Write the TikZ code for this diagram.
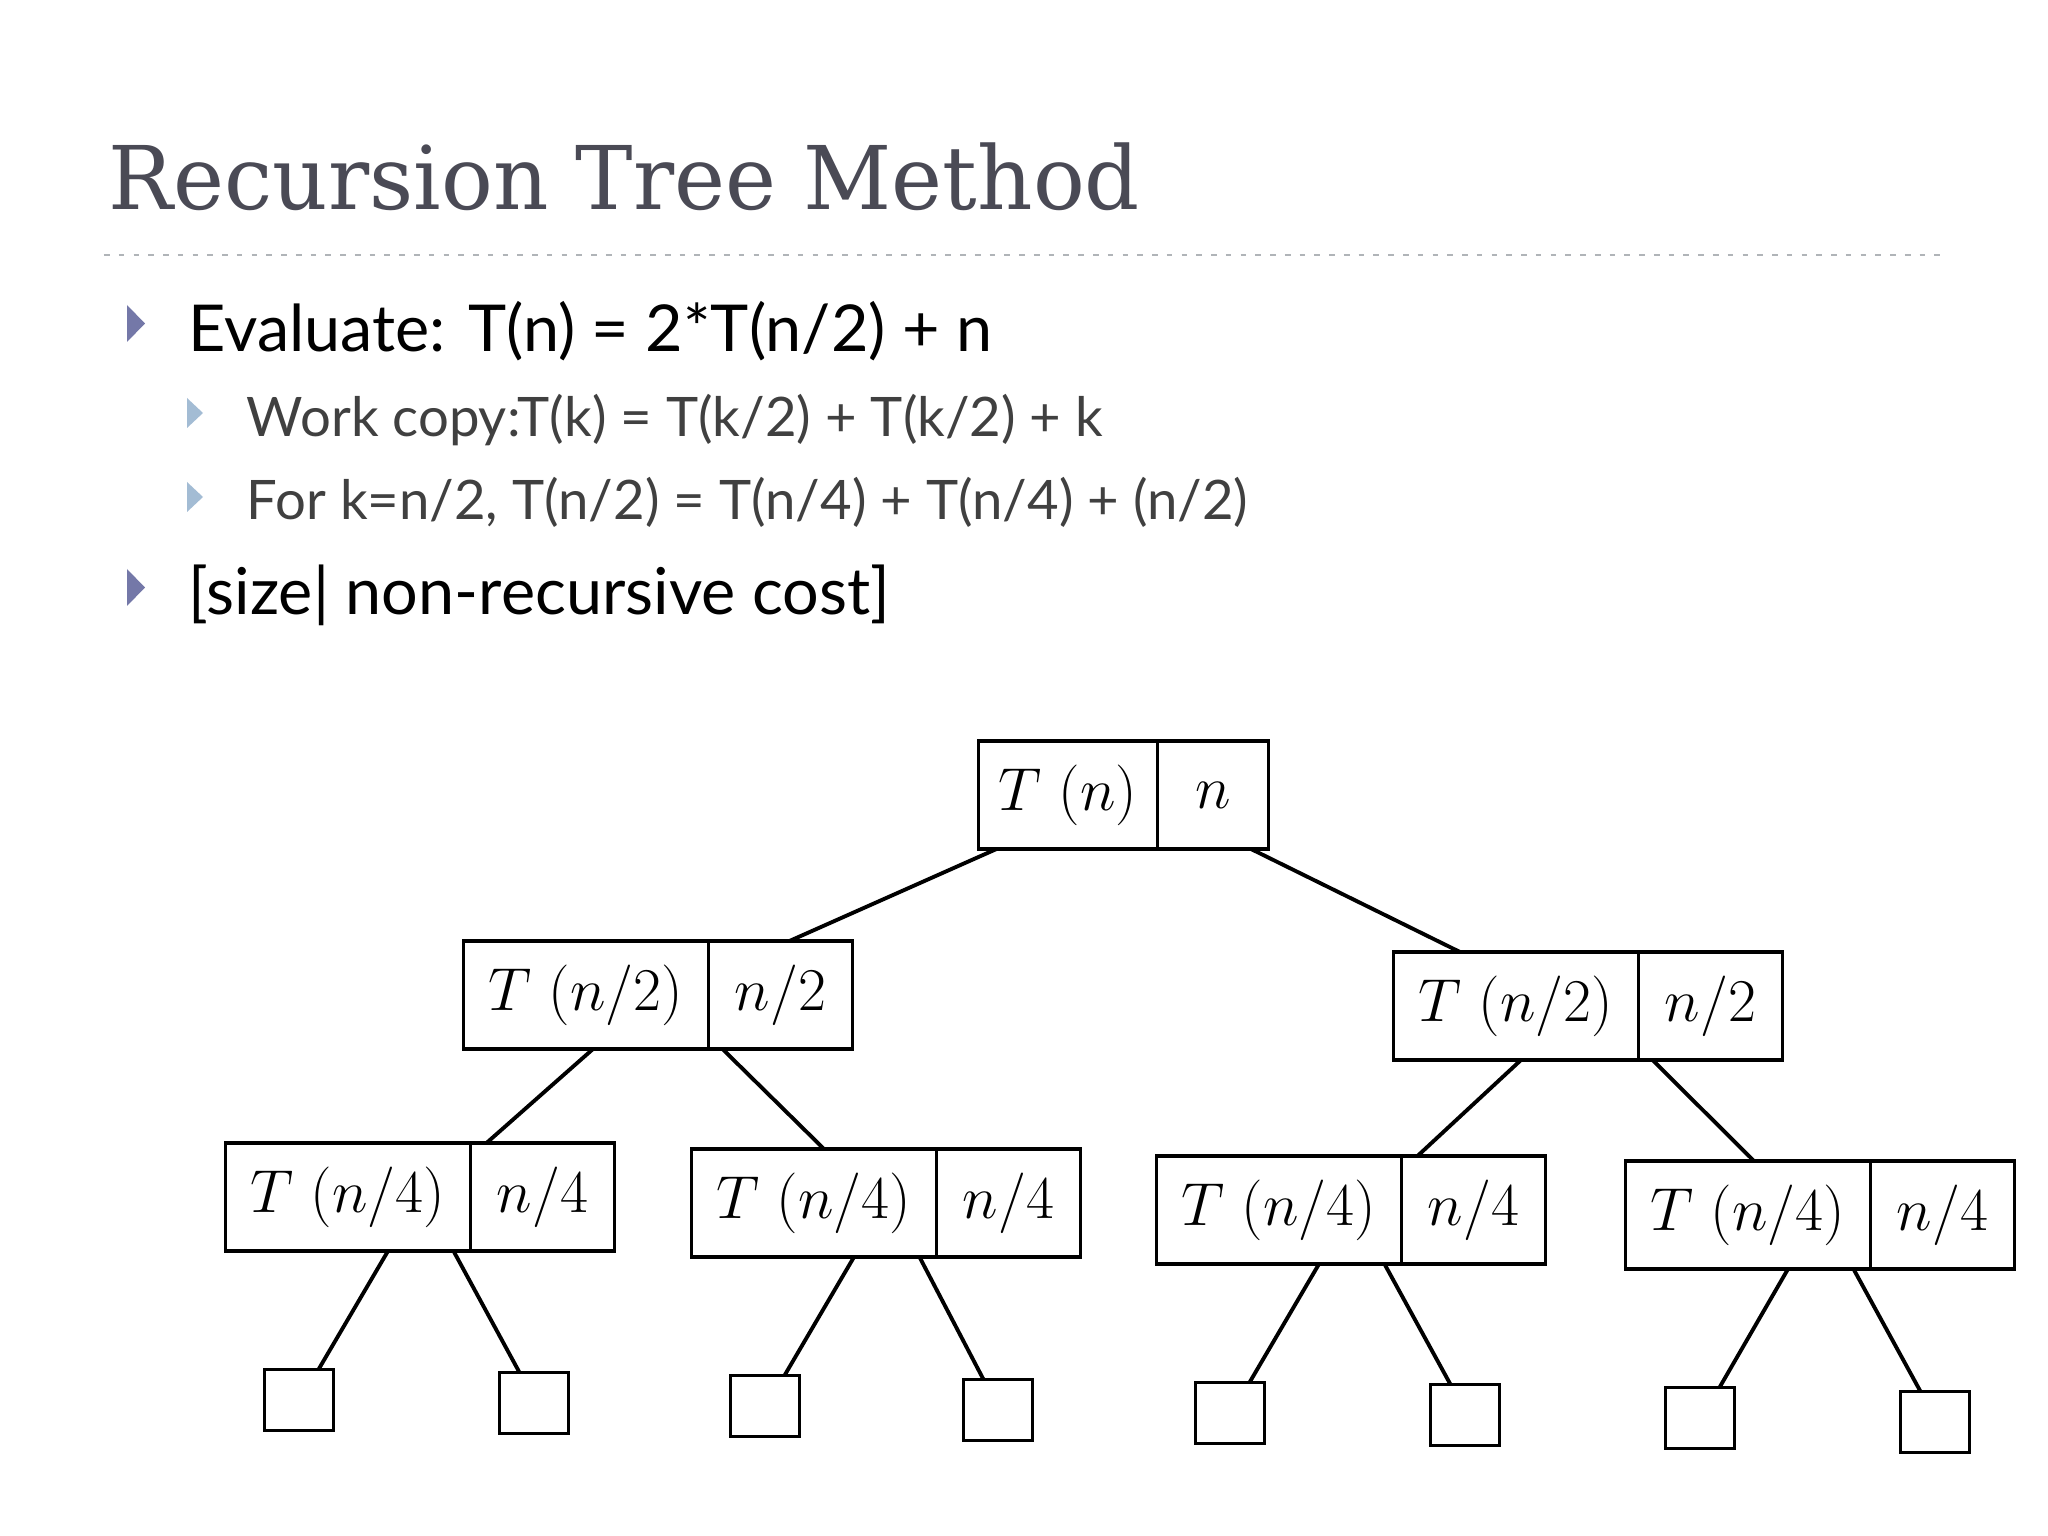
\documentclass[tikz,border=0pt]{standalone}
\usepackage{amsmath,amssymb}
\usepackage{graphicx}
\usepackage{fontspec}
\usepackage{tikz}
\usetikzlibrary{positioning}
\newfontfamily\titlefont{DejaVu Serif}
\newfontfamily\slidefont{Lato}
\definecolor{titlegray}{HTML}{4A4A55}
\definecolor{bodygray}{HTML}{404040}
\definecolor{bulletdark}{HTML}{7478A8}
\definecolor{bulletlight}{HTML}{A3BCD4}
\definecolor{rulegray}{HTML}{B0B4B8}

\begin{document}
\begin{tikzpicture}[line width=1.1pt,
    tpart/.style={draw,rectangle,inner sep=0pt,outer sep=0pt,minimum width=2.45cm,minimum height=1.08cm,font=\fontsize{16}{19}\selectfont},
    cpart/.style={tpart,minimum width=1.44cm},
    leaf/.style={draw,rectangle,inner sep=0pt,outer sep=0pt,minimum width=0.69cm,minimum height=0.61cm},
    lone/.style={anchor=base west,inner sep=0pt,font=\slidefont\fontsize{18.4}{22}\selectfont},
    ltwo/.style={anchor=base west,inner sep=0pt,text=bodygray,font=\slidefont\fontsize{15.5}{19}\selectfont}]
  \useasboundingbox[fill=white] (0,0) rectangle (20.48,-15.36);
  % title and rule
  \node[anchor=base west,inner sep=0pt,text=titlegray,font=\titlefont\fontsize{25}{30}\selectfont] (title) at (1.07,-2.10) {\scalebox{0.98}[1]{Recursion Tree Method}};
  \draw[rulegray,line width=0.6pt,dash pattern=on 1.6pt off 2.6pt] (1.04,-2.55) -- (19.46,-2.55);
  % bullets
  \fill[bulletdark] (1.27,-3.05) -- (1.45,-3.235) -- (1.27,-3.42) -- cycle;
  \fill[bulletlight] (1.87,-3.98) -- (2.03,-4.13) -- (1.87,-4.28) -- cycle;
  \fill[bulletlight] (1.87,-4.82) -- (2.03,-4.97) -- (1.87,-5.12) -- cycle;
  \fill[bulletdark] (1.27,-5.69) -- (1.45,-5.875) -- (1.27,-6.06) -- cycle;
  \node[lone] (eval) at (1.87,-3.52) {Evaluate: T(n) = 2*T(n/2) + n};
  \node[ltwo] (work) at (2.45,-4.37) {Work copy:T(k) = T(k/2) + T(k/2) + k};
  \node[ltwo] (fork) at (2.45,-5.20) {For k=n/2, T(n/2) = T(n/4) + T(n/4) + (n/2)};
  \node[lone] (size) at (1.87,-6.15) {[size| non-recursive cost]};
  % tree
  \node[tpart,minimum width=1.79cm] (tn) at (10.68,-7.95) {$T\ (n)$};
  \node[cpart,minimum width=1.11cm,right=0pt of tn] (cn) {$n$};
  \node[tpart] (tl) at (5.86,-9.95) {$T\ (n/2)$};
  \node[cpart,right=0pt of tl] (cl) {$n/2$};
  \node[tpart] (tr) at (15.16,-10.06) {$T\ (n/2)$};
  \node[cpart,right=0pt of tr] (cr) {$n/2$};
  \node[tpart] (tll) at (3.48,-11.97) {$T\ (n/4)$};
  \node[cpart,right=0pt of tll] (cll) {$n/4$};
  \node[tpart] (tlr) at (8.14,-12.03) {$T\ (n/4)$};
  \node[cpart,right=0pt of tlr] (clr) {$n/4$};
  \node[tpart] (trl) at (12.79,-12.10) {$T\ (n/4)$};
  \node[cpart,right=0pt of trl] (crl) {$n/4$};
  \node[tpart] (trr) at (17.48,-12.15) {$T\ (n/4)$};
  \node[cpart,right=0pt of trr] (crr) {$n/4$};
  \node[leaf] (q1) at (2.99,-14.00) {};
  \node[leaf] (q2) at (5.34,-14.03) {};
  \node[leaf] (q3) at (7.65,-14.06) {};
  \node[leaf] (q4) at (9.98,-14.10) {};
  \node[leaf] (q5) at (12.30,-14.13) {};
  \node[leaf] (q6) at (14.65,-14.15) {};
  \node[leaf] (q7) at (17.00,-14.18) {};
  \node[leaf] (q8) at (19.35,-14.22) {};
  \draw ([xshift=1.8mm]tn.south west) -- ([xshift=0.9mm]cl.north);
  \draw ([xshift=3.8mm]cn.south) -- ([xshift=-5.6mm]tr.north);
  \draw ([xshift=0.7mm]tl.south) -- ([xshift=1.6mm]tll.north east);
  \draw ([xshift=1.4mm]cl.south west) -- ([xshift=1mm]tlr.north);
  \draw ([xshift=0.5mm]tr.south) -- ([xshift=1.6mm]trl.north east);
  \draw ([xshift=1.4mm]cr.south west) -- ([xshift=0.6mm]trr.north);
  \draw ([xshift=4mm]tll.south) -- ([xshift=-1.5mm]q1.north east);
  \draw ([xshift=-1.7mm]tll.south east) -- ([xshift=2mm]q2.north west);
  \draw ([xshift=4mm]tlr.south) -- ([xshift=-1.5mm]q3.north east);
  \draw ([xshift=-1.7mm]tlr.south east) -- ([xshift=2mm]q4.north west);
  \draw ([xshift=4mm]trl.south) -- ([xshift=-1.5mm]q5.north east);
  \draw ([xshift=-1.7mm]trl.south east) -- ([xshift=2mm]q6.north west);
  \draw ([xshift=4mm]trr.south) -- ([xshift=-1.5mm]q7.north east);
  \draw ([xshift=-1.7mm]trr.south east) -- ([xshift=2mm]q8.north west);
\end{tikzpicture}
\end{document}
